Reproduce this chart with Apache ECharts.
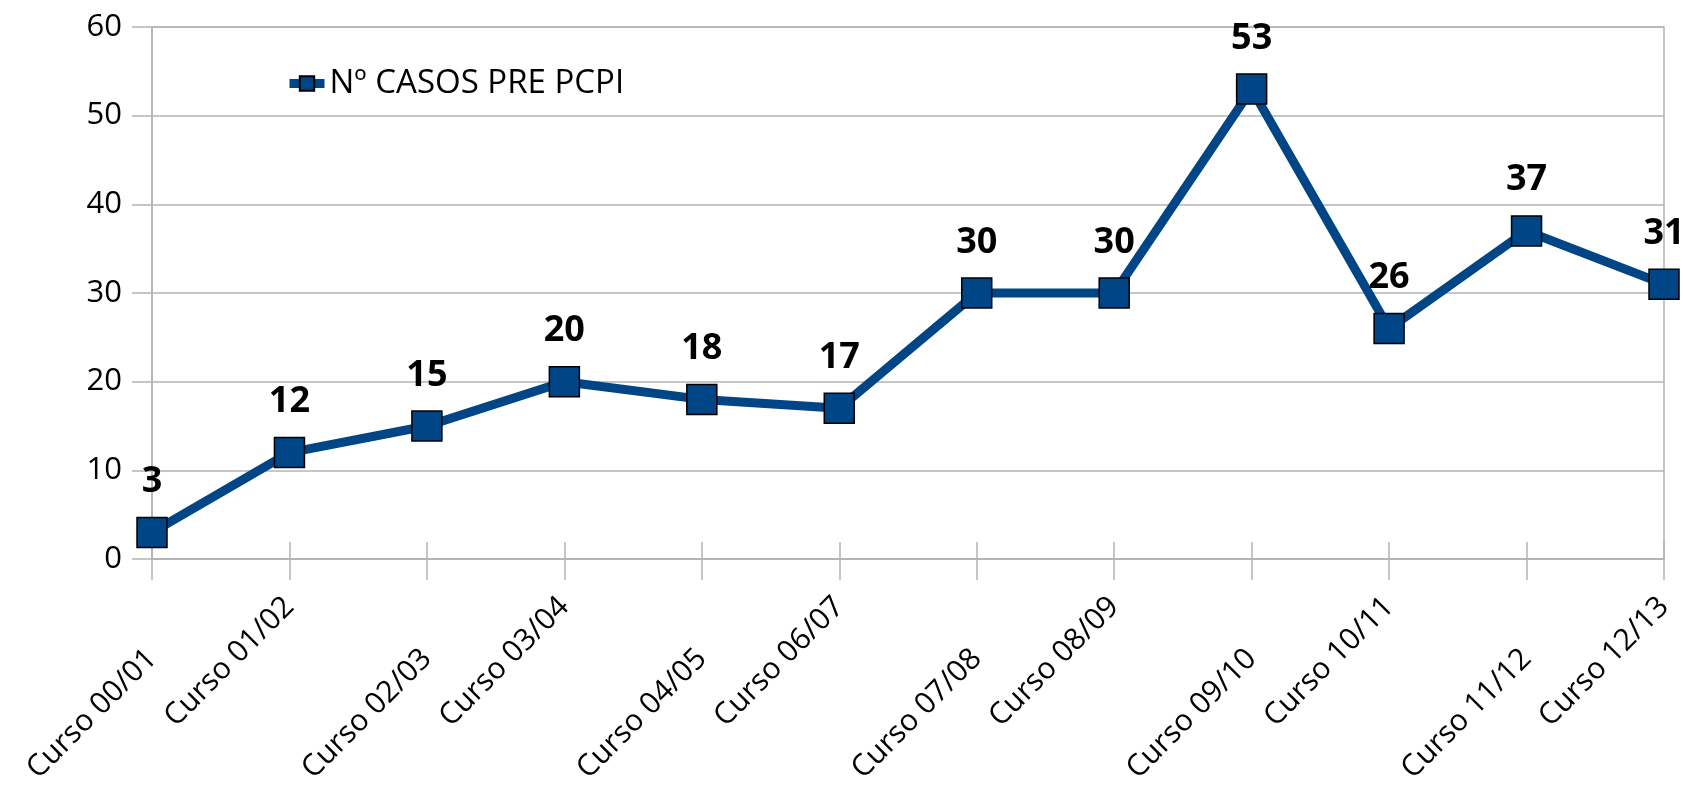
<!DOCTYPE html>
<html>
<head>
<meta charset="utf-8">
<script src="https://cdn.jsdelivr.net/npm/echarts@6/dist/echarts.min.js"></script>
<style>
html,body{margin:0;padding:0;background:#fff;}
#chart{width:1683px;height:787px;}
</style>
</head>
<body>
<div id="chart"></div>
<script>
const categories = ['Curso 00/01','Curso 01/02','Curso 02/03','Curso 03/04','Curso 04/05','Curso 06/07','Curso 07/08','Curso 08/09','Curso 09/10','Curso 10/11','Curso 11/12','Curso 12/13'];
const seriesName = 'Nº CASOS PRE PCPI';
const casos = [3, 12, 15, 20, 18, 17, 30, 30, 53, 26, 37, 31];
const yTicks = { min: 0, max: 60, interval: 10 };

const gridColor = '#b3b3b3';
const font = 'Open Sans';

const chart = echarts.init(document.getElementById('chart'));
chart.setOption({
  animation: false,
  backgroundColor: '#ffffff',
  legend: {
    left: 280,
    top: 62,
    itemWidth: 35,
    itemHeight: 18,
    itemGap: 10,
    lineStyle: { width: 9, color: '#004586' },
    textStyle: { fontFamily: font, fontSize: 33, color: '#000' },
    data: [seriesName]
  },
  grid: {
    left: 152, right: 19, top: 27, bottom: 228,
    show: true, borderColor: gridColor, borderWidth: 1.5,
    containLabel: false, outerBoundsMode: 'none'
  },
  xAxis: [
    {
      type: 'category', data: categories, boundaryGap: false, position: 'bottom',
      axisLine: { show: true, lineStyle: { color: gridColor, width: 1.5 } },
      axisTick: { show: true, interval: 0, inside: false, length: 21, lineStyle: { color: gridColor, width: 1.5 } },
      axisLabel: {
        interval: function (i) { return i % 2 === 0; },
        rotate: 45, margin: 95,
        fontFamily: font, fontSize: 30, color: '#000'
      },
      splitLine: { show: false }
    },
    {
      type: 'category', data: categories, boundaryGap: false, position: 'bottom',
      axisLine: { show: false },
      axisTick: { show: true, interval: 0, inside: true, length: 17, lineStyle: { color: gridColor, width: 1.5 } },
      axisLabel: {
        interval: function (i) { return i % 2 === 1; },
        rotate: 45, margin: 43,
        fontFamily: font, fontSize: 30, color: '#000'
      },
      splitLine: { show: false }
    }
  ],
  yAxis: {
    type: 'value', min: yTicks.min, max: yTicks.max, interval: yTicks.interval,
    axisLine: { show: true, lineStyle: { color: gridColor, width: 1.5 } },
    axisTick: { show: true, length: 20, lineStyle: { color: gridColor, width: 1.5 } },
    axisLabel: { margin: 30, fontFamily: font, fontSize: 31, color: '#000' },
    splitLine: { show: true, lineStyle: { color: gridColor, width: 1.5 } }
  },
  series: [{
    name: seriesName,
    type: 'line',
    xAxisIndex: 0,
    data: casos,
    symbol: 'rect',
    symbolSize: 30,
    lineStyle: { color: '#004586', width: 9 },
    itemStyle: { color: '#004586', borderColor: '#000', borderWidth: 1.5 },
    label: {
      show: true, position: 'top', distance: 17,
      fontFamily: font, fontSize: 36, fontWeight: 'bold', color: '#000'
    }
  }]
});
</script>
</body>
</html>
